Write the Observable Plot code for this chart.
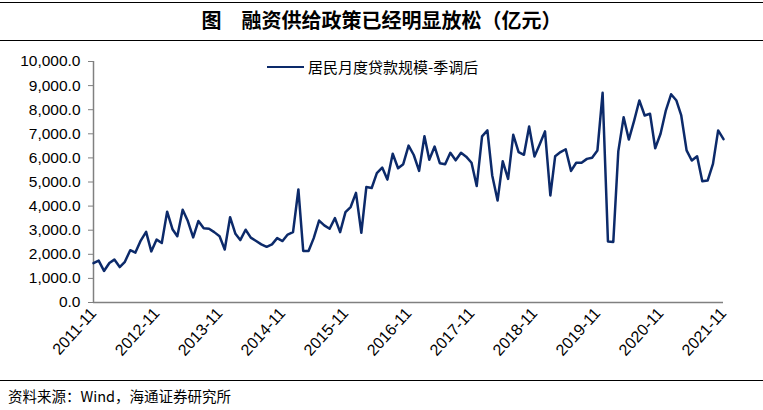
<!DOCTYPE html>
<html><head><meta charset="utf-8">
<script src="https://cdn.jsdelivr.net/npm/d3@7"></script>
<script src="https://cdn.jsdelivr.net/npm/@observablehq/plot@0.6"></script>
<style>
body{margin:0;background:#fff;}
#wrap{position:relative;width:763px;height:410px;overflow:hidden;background:#fff;}
.hline{position:absolute;left:0;width:763px;height:0;border-top:1.5px solid #000;}
#title{position:absolute;top:8px;left:0;width:763px;text-align:center;font:bold 20px "Noto Sans CJK SC";line-height:24px;white-space:pre;}
#chart{position:absolute;left:0;top:42px;}
#legend{position:absolute;left:267px;top:57px;display:flex;align-items:center;font:15px "Noto Sans CJK SC";line-height:20px;}
#legend .sw{width:37px;height:0;border-top:2.5px solid #0c2a6a;margin-right:4px;}
#source{position:absolute;left:8px;top:386px;font:14.5px "Noto Sans CJK SC";line-height:19px;}
</style></head>
<body>
<div id="wrap">
  <div class="hline" style="top:2px"></div>
  <div id="title">图　融资供给政策已经明显放松（亿元）</div>
  <div class="hline" style="top:40px"></div>
  <div id="chart"></div>
  <div id="legend"><div class="sw"></div><span id="legendText"></span></div>
  <div class="hline" style="top:380px"></div>
  <div id="source"></div>
</div>
<script>
const seriesName = "居民月度贷款规模-季调后";
const sourceText = "资料来源：Wind，海通证券研究所";
const startMonth = "2011-11";
const endMonth = "2021-11";
const tickLabels = ["2011-11","2012-11","2013-11","2014-11","2015-11","2016-11","2017-11","2018-11","2019-11","2020-11","2021-11"];
const yTicks = [0,1000,2000,3000,4000,5000,6000,7000,8000,9000,10000];
const values = [
 1630,1740,1310,1640,1780,1470,1690,2170,2070,2570,2930,2120,
 2610,2470,3770,3040,2750,3850,3380,2700,3380,3080,3060,2920,
 2750,2200,3540,2850,2590,3020,2690,2550,2410,2310,2410,2670,
 2550,2820,2920,4690,2140,2140,2670,3400,3200,3060,3500,2920,
 3750,3960,4550,2890,4790,4750,5370,5600,5100,6170,5570,5740,
 6510,6120,5460,6900,5920,6470,5780,5740,6210,5900,6210,6050,
 5800,4830,6890,7140,5270,4230,5860,5130,6960,6240,6130,7300,
 6060,6560,7100,4440,6070,6240,6360,5460,5800,5800,5960,6010,
 6310,8700,2530,2510,6270,7690,6760,7550,8380,7760,7830,6400,
 7000,7950,8640,8380,7760,6310,5890,6070,5030,5060,5750,7140,
 6780
];

document.getElementById("legendText").textContent = seriesName;
document.getElementById("source").textContent = sourceText;

const parseM = d3.utcParse("%Y-%m");
const dates = d3.utcMonth.range(parseM(startMonth), d3.utcMonth.offset(parseM(endMonth), 1));
const data = values.map((v, i) => ({date: dates[i], value: v}));
const xTicks = tickLabels.map(parseM);

const chart = Plot.plot({
  width: 763, height: 338,
  marginLeft: 93, marginRight: 40, marginTop: 19, marginBottom: 78,
  style: {fontFamily: "'Liberation Sans', Arial, sans-serif", fontSize: "15.5px", color: "#000", background: "#fff"},
  x: {type: "utc", domain: [dates[0], dates[dates.length - 1]]},
  y: {domain: [0, 10000]},
  marks: [
    Plot.ruleY([0], {stroke: "#808080", strokeWidth: 1.5}),
    Plot.ruleX([dates[0]], {stroke: "#808080", strokeWidth: 1.5}),
    Plot.axisY({ticks: yTicks, tickFormat: d3.format(",.1f"), tickSize: 5, tickPadding: 8, stroke: "#808080", fill: "#000", fontSize: 15.5, label: null}),
    Plot.axisX({ticks: xTicks, tickFormat: d3.utcFormat("%Y-%m"), tickRotate: -48, tickSize: 0, tickPadding: 8, fill: "#000", fontSize: 16, label: null}),
    Plot.lineY(data, {x: "date", y: "value", stroke: "#0c2a6a", strokeWidth: 2.5})
  ]
});
document.getElementById("chart").appendChild(chart);
</script>
</body></html>
